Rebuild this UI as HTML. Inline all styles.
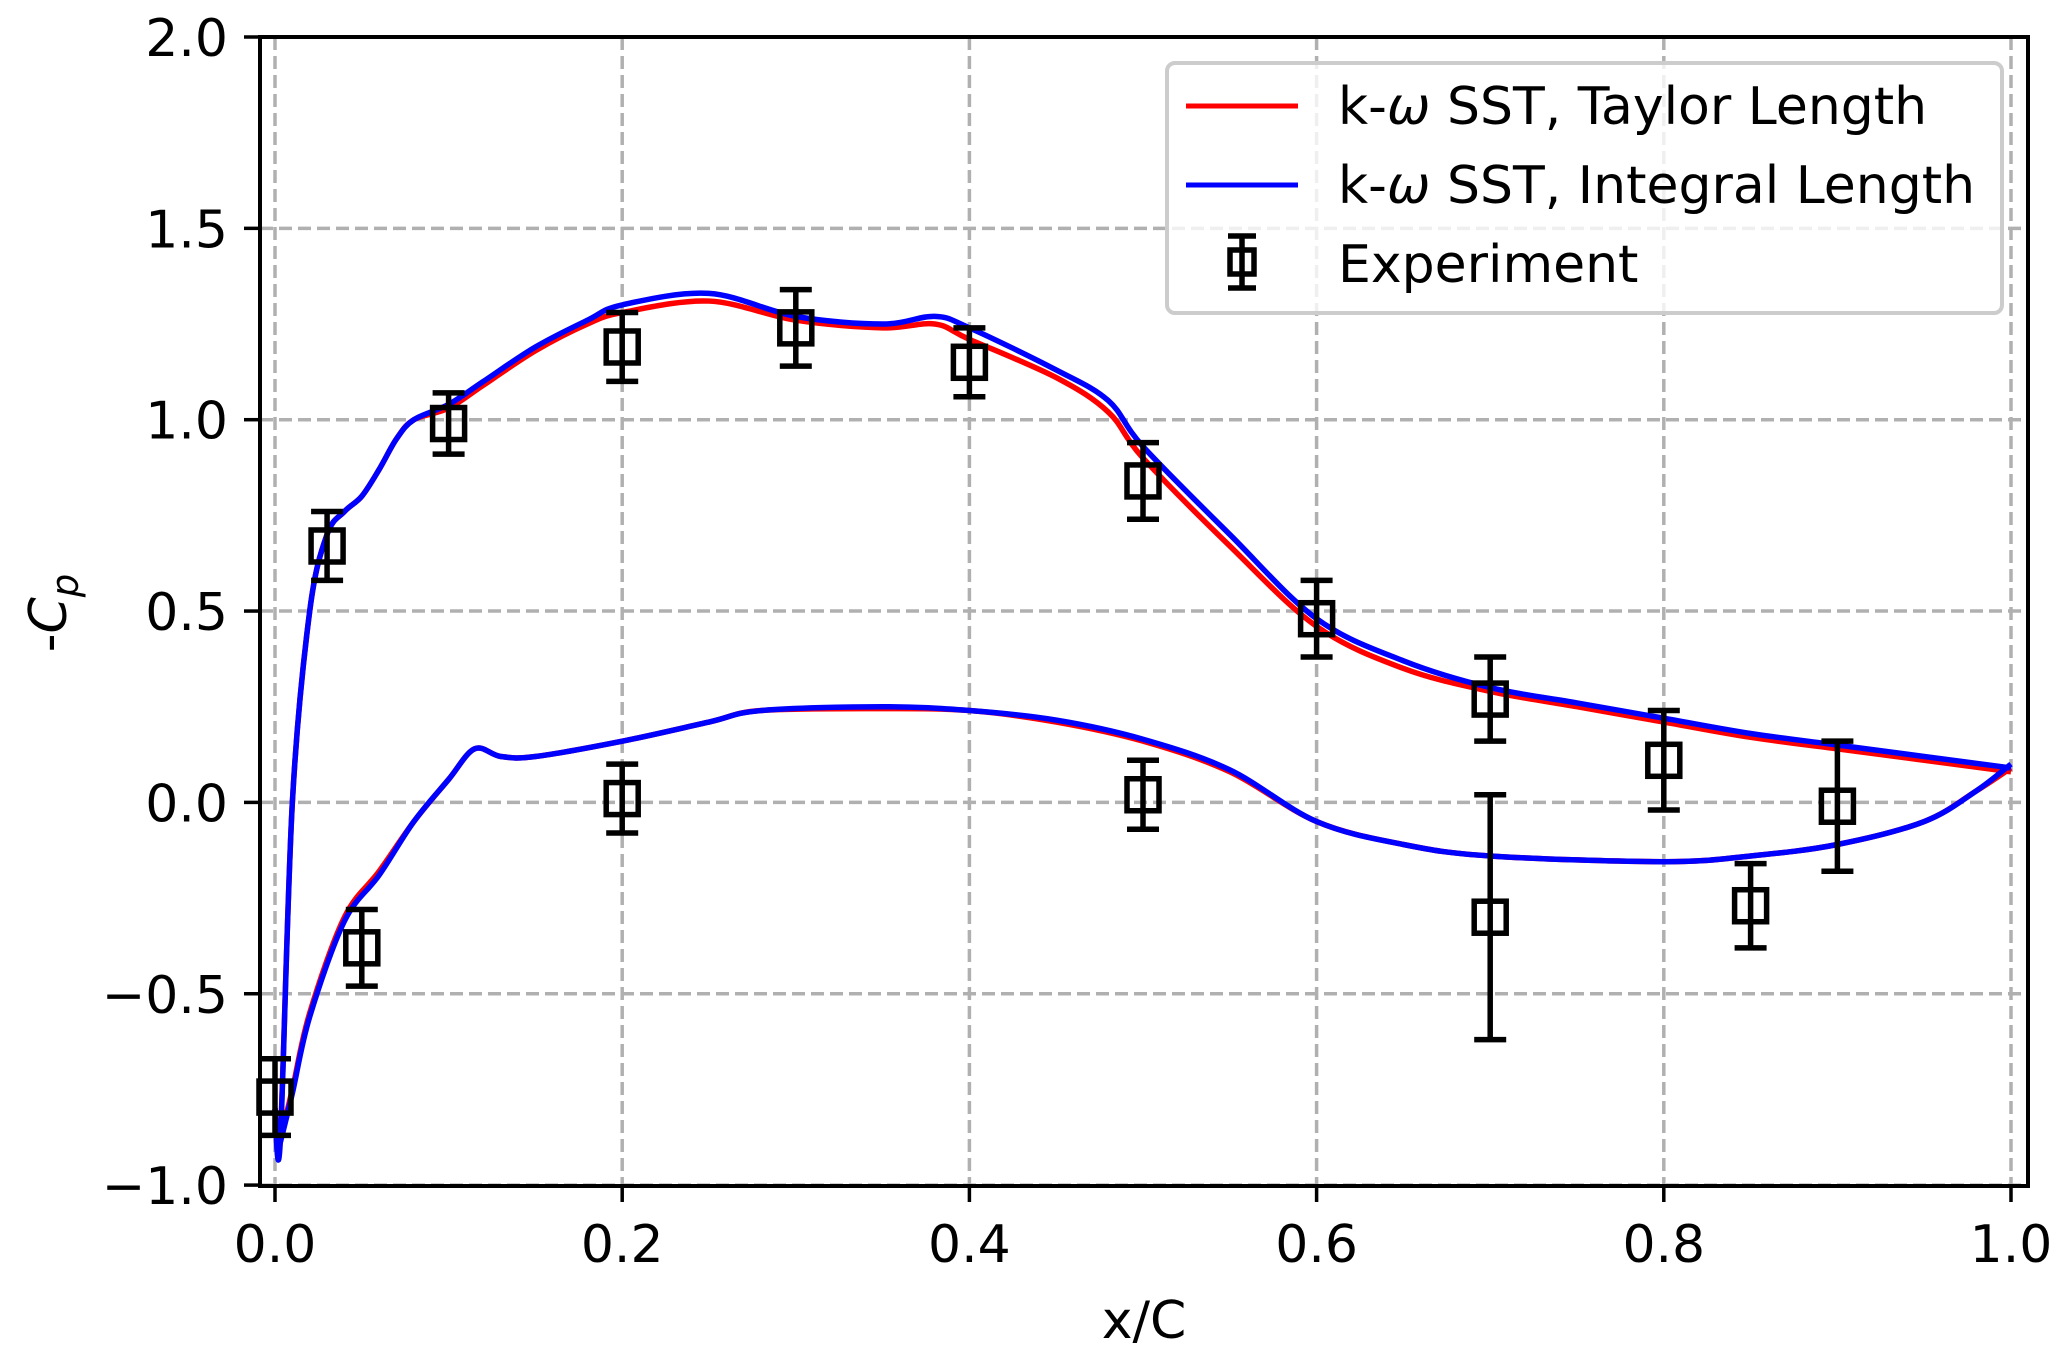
<!DOCTYPE html>
<html><head><meta charset="utf-8"><style>
html,body{margin:0;padding:0;background:#fff}
svg{display:block}
text{font-family:"DejaVu Sans","Liberation Sans",sans-serif;fill:#000}
</style></head><body>
<svg id="chart" width="2067" height="1355" viewBox="0 0 2067 1355" xmlns="http://www.w3.org/2000/svg">
<g id="grid"></g>
<g id="series"></g>
<g id="exp"></g>
<rect x="260" y="37" width="1768" height="1149" fill="none" stroke="#000" stroke-width="4"/>
<g id="ticks"></g>
<text x="1144" y="1338" font-size="52" text-anchor="middle">x/C</text>
<text transform="translate(66,613) rotate(-90)" font-size="52" text-anchor="middle">-<tspan font-style="italic">C</tspan><tspan font-style="italic" font-size="37" dy="12">p</tspan></text>
<g>
<rect x="1167" y="63" width="835" height="250" rx="8" fill="#fff" fill-opacity="0.8" stroke="#ccc" stroke-width="4"/>
<line x1="1186" y1="106" x2="1298" y2="106" stroke="#ff0000" stroke-width="5"/>
<text x="1338" y="124" font-size="52">k-<tspan font-style="italic">ω</tspan> SST, Taylor Length</text>
<line x1="1186" y1="185" x2="1298" y2="185" stroke="#0000ff" stroke-width="5"/>
<text x="1338" y="203" font-size="52">k-<tspan font-style="italic">ω</tspan> SST, Integral Length</text>
<g stroke="#000" stroke-width="5.5" fill="none">
<line x1="1242" y1="236" x2="1242" y2="288"/><line x1="1228" y1="236" x2="1256" y2="236"/><line x1="1228" y1="288" x2="1256" y2="288"/><rect x="1230" y="250" width="24" height="24"/></g>
<text x="1338" y="282" font-size="52">Experiment</text>
</g>
</svg>
<script>
// Data
const upperX = [0.0,0.003,0.01,0.02,0.03,0.04,0.05,0.06,0.07,0.08,0.1,0.12,0.15,0.18,0.2,0.25,0.3,0.35,0.38,0.4,0.45,0.48,0.5,0.55,0.6,0.65,0.7,0.75,0.8,0.85,0.9,0.95,1.0];
const taylorUpper = [-0.80,-0.88,0.0,0.5,0.7,0.76,0.8,0.87,0.95,1.0,1.03,1.09,1.18,1.25,1.28,1.31,1.26,1.24,1.25,1.21,1.11,1.02,0.90,0.67,0.46,0.35,0.29,0.25,0.21,0.17,0.14,0.11,0.08];
const integralUpper = [-0.80,-0.89,0.0,0.5,0.7,0.76,0.8,0.87,0.95,1.0,1.04,1.10,1.19,1.26,1.30,1.33,1.27,1.25,1.27,1.24,1.13,1.05,0.93,0.70,0.48,0.37,0.30,0.26,0.22,0.18,0.15,0.12,0.09];
const lowerX = [0.003,0.01,0.02,0.04,0.06,0.08,0.1,0.115,0.13,0.15,0.2,0.25,0.28,0.35,0.4,0.45,0.5,0.55,0.6,0.65,0.7,0.8,0.85,0.9,0.95,0.98,1.0];
const taylorLower = [-0.88,-0.75,-0.55,-0.30,-0.18,-0.05,0.06,0.14,0.12,0.12,0.16,0.21,0.24,0.245,0.24,0.21,0.16,0.08,-0.05,-0.11,-0.14,-0.155,-0.14,-0.11,-0.05,0.03,0.09];
const integralLower = [-0.89,-0.76,-0.56,-0.31,-0.19,-0.05,0.06,0.14,0.12,0.12,0.16,0.21,0.24,0.25,0.24,0.215,0.165,0.085,-0.05,-0.11,-0.14,-0.155,-0.14,-0.11,-0.05,0.03,0.10];
const expX = [0.0,0.03,0.05,0.1,0.2,0.2,0.3,0.4,0.5,0.5,0.6,0.7,0.7,0.8,0.85,0.9];
const expY = [-0.77,0.67,-0.38,0.99,1.19,0.01,1.24,1.15,0.84,0.02,0.48,0.27,-0.30,0.11,-0.27,-0.01];
const expErr = [0.10,0.09,0.10,0.08,0.09,0.09,0.10,0.09,0.10,0.09,0.10,0.11,0.32,0.13,0.11,0.17];
const xTicks = [0.0,0.2,0.4,0.6,0.8,1.0];
const xTickLabels = ["0.0","0.2","0.4","0.6","0.8","1.0"];
const yTicks = [-1.0,-0.5,0.0,0.5,1.0,1.5,2.0];
const yTickLabels = ["\u22121.0","\u22120.5","0.0","0.5","1.0","1.5","2.0"];

const NS = "http://www.w3.org/2000/svg";
const sx = v => 275 + v * 1736;
const sy = v => 37 + (2 - v) * 382.7;
function mk(tag, attrs, parent){const e=document.createElementNS(NS,tag);for(const k in attrs)e.setAttribute(k,attrs[k]);parent.appendChild(e);return e;}
const grid=document.getElementById('grid'), ticks=document.getElementById('ticks'), series=document.getElementById('series'), exp=document.getElementById('exp');

xTicks.forEach((t,i)=>{
  const g=mk('line',{x1:sx(t),x2:sx(t),y1:37,y2:1186,stroke:'#b0b0b0','stroke-width':3.5,'stroke-dasharray':'13,6'},grid);
  
  
  const tk=mk('line',{x1:sx(t),x2:sx(t),y1:1186,y2:1202,stroke:'#000','stroke-width':3.5},ticks);
  
  
  const tl=mk('text',{x:sx(t),y:1262,'font-size':52,'text-anchor':'middle'},ticks);
  tl.textContent=xTickLabels[i];
  
  
});
yTicks.forEach((t,i)=>{
  const g=mk('line',{x1:260,x2:2028,y1:sy(t),y2:sy(t),stroke:'#b0b0b0','stroke-width':3.5,'stroke-dasharray':'13,6'},grid);
  
  
  const tk=mk('line',{x1:244,x2:260,y1:sy(t),y2:sy(t),stroke:'#000','stroke-width':3.5},ticks);
  
  
  const tl=mk('text',{x:228,y:sy(t)+19,'font-size':52,'text-anchor':'end'},ticks);
  tl.textContent=yTickLabels[i];
  
  
});

function smoothPath(xs, ys){
  const p=xs.map((x,i)=>[sx(x),sy(ys[i])]);
  let d='M'+p[0][0]+','+p[0][1];
  for(let i=0;i<p.length-1;i++){
    const p0=p[i-1]||p[i],p1=p[i],p2=p[i+1],p3=p[i+2]||p2;
    const c1=[p1[0]+(p2[0]-p0[0])/6,p1[1]+(p2[1]-p0[1])/6];
    const c2=[p2[0]-(p3[0]-p1[0])/6,p2[1]-(p3[1]-p1[1])/6];
    d+=` C${c1[0]},${c1[1]} ${c2[0]},${c2[1]} ${p2[0]},${p2[1]}`;
  }
  return d;
}
const lt=mk('path',{d:smoothPath(upperX,taylorUpper),fill:'none',stroke:'#ff0000','stroke-width':5.5,'stroke-linejoin':'round'},series);


const ltl=mk('path',{d:smoothPath(lowerX,taylorLower),fill:'none',stroke:'#ff0000','stroke-width':5.5,'stroke-linejoin':'round'},series);


const li=mk('path',{d:smoothPath(upperX,integralUpper),fill:'none',stroke:'#0000ff','stroke-width':5.5,'stroke-linejoin':'round'},series);


const lil=mk('path',{d:smoothPath(lowerX,integralLower),fill:'none',stroke:'#0000ff','stroke-width':5.5,'stroke-linejoin':'round'},series);



expX.forEach((x,i)=>{
  const g=mk('g',{stroke:'#000','stroke-width':5.5,fill:'none'},exp);
  
  
  const cx=sx(x), cy=sy(expY[i]), top=sy(expY[i]+expErr[i]), bot=sy(expY[i]-expErr[i]);
  mk('line',{x1:cx,x2:cx,y1:top,y2:bot},g);
  mk('line',{x1:cx-16,x2:cx+16,y1:top,y2:top},g);
  mk('line',{x1:cx-16,x2:cx+16,y1:bot,y2:bot},g);
  mk('rect',{x:cx-16,y:cy-16,width:32,height:32},g);
});
</script>
</body></html>
